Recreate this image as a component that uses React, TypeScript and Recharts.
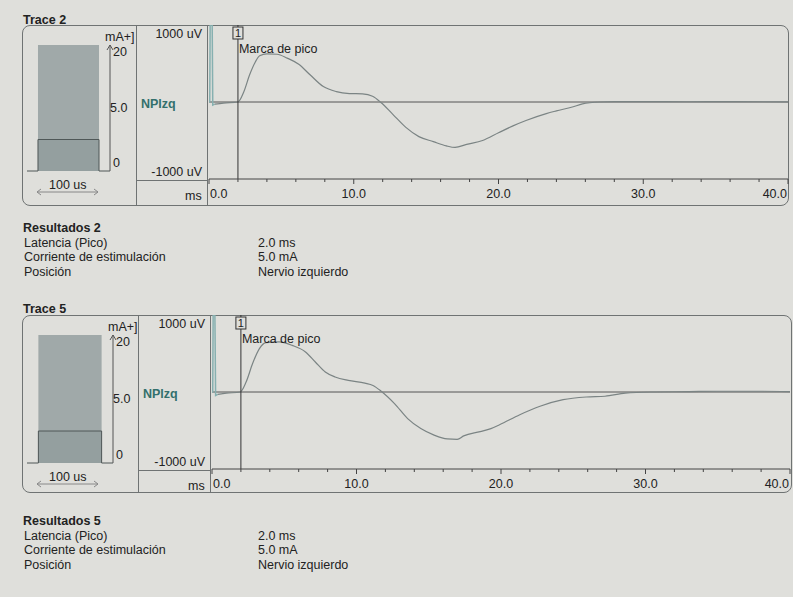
import React from "react";
import {
  Area,
  ComposedChart,
  Line,
  LineChart,
  ReferenceLine,
  XAxis,
  YAxis,
} from "recharts";

// axis ticks
const timeTicks = [0, 2, 4, 6, 8, 10, 12, 14, 16, 18, 20, 22, 24, 26, 28, 30, 32, 34, 36, 38, 40];
const voltTicks = [1000, 0, -1000];
const stimTicks = [0, 20];

// Trace 2 (ms, uV)
const trace2ArtifactTime = [0.05, 0.08, 0.22, 0.26, 0.4];
const trace2ArtifactUv = [-10, 1000, 1000, -40, -28];
const trace2Time = [0.4, 1.0, 2.0, 2.4, 2.8, 3.2, 3.5, 4.0, 4.7, 5.4, 6.2, 7.0, 7.9, 8.8, 9.7, 10.6, 11.3, 11.9, 12.7, 13.6, 14.5, 15.5, 16.4, 17.0, 17.8, 18.9, 20.0, 21.0, 21.9, 23.3, 24.0, 25.1, 25.8, 27.0, 28.0, 30.0, 33.0, 36.0, 40.0];
const trace2Uv = [-28, -14, 0, 130, 350, 520, 600, 625, 620, 570, 490, 350, 200, 135, 110, 105, 75, -10, -160, -330, -450, -515, -570, -590, -550, -500, -400, -310, -240, -150, -115, -65, -25, 0, 5, 5, 3, 5, 2];

// Trace 5 (ms, uV)
const trace5ArtifactTime = [0.05, 0.08, 0.2, 0.25, 0.4];
const trace5ArtifactUv = [-10, 1000, 1000, -45, -30];
const trace5Time = [0.4, 1.0, 1.95, 2.36, 2.81, 3.27, 3.73, 4.64, 5.55, 6.47, 7.15, 7.84, 8.52, 9.43, 10.58, 11.14, 11.71, 12.63, 13.54, 14.45, 15.37, 16.28, 16.97, 17.42, 18.56, 19.3, 19.9, 21.3, 22.7, 24.3, 25.9, 27.2, 28.6, 30.4, 33.0, 35.0, 38.0, 40.0];
const trace5Uv = [-30, -15, 0, 130, 370, 560, 640, 650, 605, 520, 390, 260, 195, 150, 115, 85, 10, -150, -345, -475, -560, -610, -615, -570, -515, -475, -425, -295, -185, -100, -65, -55, -15, 0, 5, 10, 10, 5];

// stimulus (us, mA)
const stimPulseTime = [-18, 0, 0, 100, 100, 118];
const stimPulseMa = [0, 0, 5, 5, 0, 0];
const stimRangeTime = [0, 100];
const stimRangeMa = [20, 20];

const resultLabels = ["Latencia (Pico)", "Corriente de estimulación", "Posición"];
const results2 = ["2.0 ms", "5.0 mA", "Nervio izquierdo"];
const results5 = ["2.0 ms", "5.0 mA", "Nervio izquierdo"];
const peakLatency2 = 2.0;
const peakLatency5 = 2.0;
const stimCurrentLabel = "5.0";
const nerveLabel = "NPlzq";

const PAPER = "#dfdfdb";
const INK = "#222";
const FONT = "'Liberation Sans', Arial, sans-serif";
const FS = 12.5;

const rows = (t: number[], v: number[]) => t.map((x, i) => ({ t: x, v: v[i] }));
const stimRows = (t: number[], v: number[]) => t.map((x, i) => ({ t: x, i: v[i] }));

type Layout = {
  titleTop: number;
  panelLeft: number;
  panelTop: number;
  panelRight: number;
  panelBottom: number;
  sep: number;
  borderX: number;
  plotLeft: number;
  plotRight: number;
  plotTop: number;
  plotBottom: number;
  stimAxis: number;
  stimTop: number;
  stimBottom: number;
};

const trace2Layout: Layout = {
  titleTop: 13, panelLeft: 22, panelTop: 25, panelRight: 789, panelBottom: 206,
  sep: 136, borderX: 207, plotLeft: 209, plotRight: 788, plotTop: 25, plotBottom: 179,
  stimAxis: 110, stimTop: 45, stimBottom: 171,
};

const trace5Layout: Layout = {
  titleTop: 302, panelLeft: 22, panelTop: 315, panelRight: 792, panelBottom: 493,
  sep: 138, borderX: 210, plotLeft: 212, plotRight: 790, plotTop: 315, plotBottom: 469,
  stimAxis: 113, stimTop: 335, stimBottom: 463,
};

function TimeTick({ x, y, payload }: any) {
  const v = payload.value as number;
  const major = v % 10 === 0;
  const anchor = v === 0 ? "start" : v === 40 ? "end" : "middle";
  const tx = v === 0 ? x + 1 : v === 40 ? x - 1 : x;
  return (
    <g>
      <line x1={x} y1={y} x2={x} y2={y + (major ? 5 : 3)} stroke="#444" />
      {major && (
        <text x={tx} y={y + 19} textAnchor={anchor} fontSize={FS} fill={INK}>
          {v.toFixed(1)}
        </text>
      )}
    </g>
  );
}

function VoltTick({ x, y, payload, nameOffset }: any) {
  const v = payload.value as number;
  if (v === 0) {
    return (
      <text x={x + nameOffset} y={y + 6} fontSize={FS} fontWeight="bold" fill="#33706c">
        {nerveLabel}
      </text>
    );
  }
  return (
    <text x={x - 7} y={v > 0 ? y + 13 : y - 3} textAnchor="end" fontSize={FS} fill={INK}>
      {`${v} uV`}
    </text>
  );
}

function StimTick({ x, y, payload }: any) {
  const v = payload.value as number;
  return (
    <text x={x + 3} y={v === 0 ? y - 4 : y + 11} fontSize={FS} fill={INK}>
      {v}
    </text>
  );
}

function PeakMarker(props: any) {
  const { x, y } = props.viewBox;
  return (
    <g>
      <rect x={x - 5} y={y + 2} width={10} height={12} fill={PAPER} stroke="#333" />
      <text x={x} y={y + 12} textAnchor="middle" fontSize={11} fill={INK}>
        1
      </text>
      <text x={x + 1} y={y + 28} fontSize={FS} fill={INK}>
        Marca de pico
      </text>
    </g>
  );
}

function StimPanel({ lay }: { lay: Layout }) {
  const left = lay.panelLeft + 5;
  const plotW = lay.stimAxis - left;
  const axisW = 22;
  return (
    <>
      <div style={{ position: "absolute", left, top: lay.stimTop - 2 }}>
        <ComposedChart
          width={plotW + axisW}
          height={lay.stimBottom - lay.stimTop + 4}
          margin={{ top: 2, right: 0, left: 0, bottom: 2 }}
        >
          <XAxis type="number" dataKey="t" domain={[-18, 118]} hide allowDataOverflow />
          <YAxis
            orientation="right"
            type="number"
            domain={[0, 20]}
            ticks={stimTicks}
            interval={0}
            width={axisW}
            tickSize={0}
            tickMargin={0}
            tickLine={false}
            axisLine={{ stroke: "#555" }}
            tick={(p: any) => <StimTick {...p} />}
          />
          <Area
            data={stimRows(stimRangeTime, stimRangeMa)}
            dataKey="i"
            type="linear"
            stroke="none"
            fill="#a0a9a9"
            fillOpacity={1}
            isAnimationActive={false}
          />
          <Area
            data={stimRows(stimPulseTime, stimPulseMa)}
            dataKey="i"
            type="linear"
            stroke="#4f5757"
            fill="#949f9f"
            fillOpacity={1}
            isAnimationActive={false}
          />
        </ComposedChart>
      </div>
      <svg
        style={{ position: "absolute", left: 0, top: 0, overflow: "visible" }}
        width={1}
        height={1}
      >
        <polyline
          points={`${lay.stimAxis - 3},${lay.stimTop + 5} ${lay.stimAxis},${lay.stimTop} ${lay.stimAxis + 3},${lay.stimTop + 5}`}
          fill="none"
          stroke="#555"
        />
        <line x1={37} y1={lay.stimBottom + 21} x2={98} y2={lay.stimBottom + 21} stroke="#888" />
        <polyline
          points={`41,${lay.stimBottom + 18} 37,${lay.stimBottom + 21} 41,${lay.stimBottom + 24}`}
          fill="none"
          stroke="#888"
        />
        <polyline
          points={`94,${lay.stimBottom + 18} 98,${lay.stimBottom + 21} 94,${lay.stimBottom + 24}`}
          fill="none"
          stroke="#888"
        />
      </svg>
      <div style={{ position: "absolute", left: lay.stimAxis - 5, top: lay.stimTop - 15, fontSize: FS }}>
        mA+]
      </div>
      <div
        style={{
          position: "absolute",
          left: lay.stimAxis,
          top: (lay.stimTop + lay.stimBottom) / 2 - 7,
          fontSize: FS,
        }}
      >
        {stimCurrentLabel}
      </div>
      <div style={{ position: "absolute", left: 49, top: lay.stimBottom + 7, fontSize: FS }}>
        100 us
      </div>
    </>
  );
}

function Trace({
  title,
  lay,
  artifact,
  response,
  latency,
}: {
  title: string;
  lay: Layout;
  artifact: { t: number; v: number }[];
  response: { t: number; v: number }[];
  latency: number;
}) {
  const W = 793 - lay.sep;
  const H = 3 + (lay.plotBottom - lay.plotTop) + 26 + 2;
  const line = "#6f7373";
  return (
    <>
      <div style={{ position: "absolute", left: lay.panelLeft + 1, top: lay.titleTop, fontSize: FS, fontWeight: "bold" }}>
        {title}
      </div>
      <div
        style={{
          position: "absolute",
          left: lay.panelLeft,
          top: lay.panelTop,
          width: lay.panelRight - lay.panelLeft,
          height: lay.panelBottom - lay.panelTop,
          border: `1px solid ${line}`,
          borderRadius: 8,
          boxSizing: "border-box",
        }}
      />
      <div style={{ position: "absolute", left: lay.sep, top: lay.panelTop, width: 1, height: lay.panelBottom - lay.panelTop, background: line }} />
      <div style={{ position: "absolute", left: lay.borderX, top: lay.panelTop, width: 1, height: lay.panelBottom - lay.panelTop, background: line }} />
      <div style={{ position: "absolute", left: lay.sep, top: lay.plotBottom + 1, width: lay.borderX - lay.sep, height: 1, background: line }} />
      <div style={{ position: "absolute", left: lay.borderX - 22, top: lay.plotBottom + 10, fontSize: FS }}>ms</div>

      <StimPanel lay={lay} />

      <div style={{ position: "absolute", left: lay.sep, top: lay.plotTop - 3 }}>
        <LineChart width={W} height={H} margin={{ top: 3, right: 793 - lay.plotRight, left: 0, bottom: 2 }}>
          <XAxis
            type="number"
            dataKey="t"
            domain={[0, 40]}
            ticks={timeTicks}
            interval={0}
            height={26}
            tickSize={0}
            tickMargin={0}
            tickLine={false}
            axisLine={{ stroke: "#444" }}
            tick={(p: any) => <TimeTick {...p} />}
            allowDataOverflow
          />
          <YAxis
            type="number"
            domain={[-1000, 1000]}
            ticks={voltTicks}
            interval={0}
            width={lay.plotLeft - lay.sep}
            tickSize={0}
            tickMargin={0}
            tickLine={false}
            axisLine={false}
            tick={(p: any) => <VoltTick {...p} nameOffset={lay.sep + 5 - lay.plotLeft} />}
            allowDataOverflow
          />
          <ReferenceLine y={0} stroke="#555" />
          <Line
            data={artifact}
            dataKey="v"
            type="linear"
            stroke="#86b0b0"
            strokeWidth={1.5}
            dot={false}
            isAnimationActive={false}
          />
          <Line
            data={response}
            dataKey="v"
            type="monotone"
            stroke="#7b8484"
            strokeWidth={1.2}
            dot={false}
            isAnimationActive={false}
          />
          <ReferenceLine x={latency} stroke="#333" label={<PeakMarker />} />
        </LineChart>
      </div>
    </>
  );
}

function Results({ title, top, values }: { title: string; top: number; values: string[] }) {
  return (
    <div style={{ position: "absolute", left: 23, top, fontSize: FS, lineHeight: "14.5px" }}>
      <div style={{ fontWeight: "bold" }}>{title}</div>
      {resultLabels.map((label, i) => (
        <div key={label} style={{ display: "flex" }}>
          <span style={{ width: 234, paddingLeft: 1 }}>{label}</span>
          <span>{values[i]}</span>
        </div>
      ))}
    </div>
  );
}

export default function App() {
  return (
    <div
      style={{
        position: "absolute",
        left: 0,
        top: 0,
        width: 793,
        height: 597,
        background: PAPER,
        color: INK,
        fontFamily: FONT,
        overflow: "hidden",
      }}
    >
      <Trace
        title="Trace 2"
        lay={trace2Layout}
        artifact={rows(trace2ArtifactTime, trace2ArtifactUv)}
        response={rows(trace2Time, trace2Uv)}
        latency={peakLatency2}
      />
      <Results title="Resultados 2" top={221} values={results2} />
      <Trace
        title="Trace 5"
        lay={trace5Layout}
        artifact={rows(trace5ArtifactTime, trace5ArtifactUv)}
        response={rows(trace5Time, trace5Uv)}
        latency={peakLatency5}
      />
      <Results title="Resultados 5" top={514} values={results5} />
    </div>
  );
}
